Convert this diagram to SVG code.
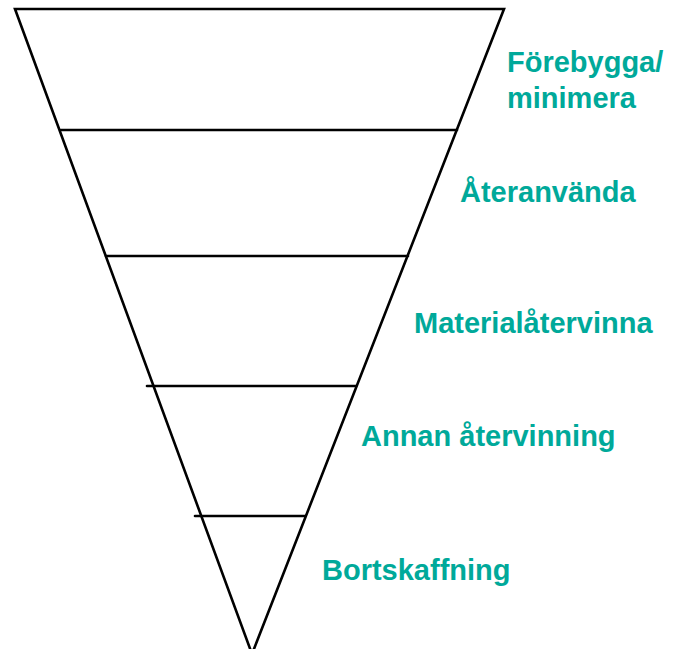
<svg xmlns="http://www.w3.org/2000/svg" width="675" height="649" viewBox="0 0 675 649">
<style>
.ln{stroke:#000;stroke-width:2.6;fill:none;stroke-linecap:round;stroke-linejoin:miter}
.lbl{font-family:"Liberation Sans",Arial,sans-serif;font-weight:bold;font-size:29px;fill:#00A99A}
</style>
<rect width="675" height="649" fill="#fff"/>
<g id="triangle">
<polygon class="ln" points="15,9 504,9 252,654"/>
</g>
<g id="connectors">
<line class="ln" x1="61" y1="130" x2="457" y2="130"/>
<line class="ln" x1="106" y1="256" x2="408" y2="256"/>
<line class="ln" x1="147" y1="386" x2="356" y2="386"/>
<line class="ln" x1="195" y1="516" x2="305" y2="516"/>
</g>
<g id="n1"><text class="lbl" x="507" y="72">Förebygga/</text><text class="lbl" x="507" y="108">minimera</text></g>
<g id="n2"><text class="lbl" x="460" y="202">Återanvända</text></g>
<g id="n3"><text class="lbl" x="414" y="333">Materialåtervinna</text></g>
<g id="n4"><text class="lbl" x="361" y="446">Annan återvinning</text></g>
<g id="n5"><text class="lbl" x="322" y="580">Bortskaffning</text></g>
</svg>
